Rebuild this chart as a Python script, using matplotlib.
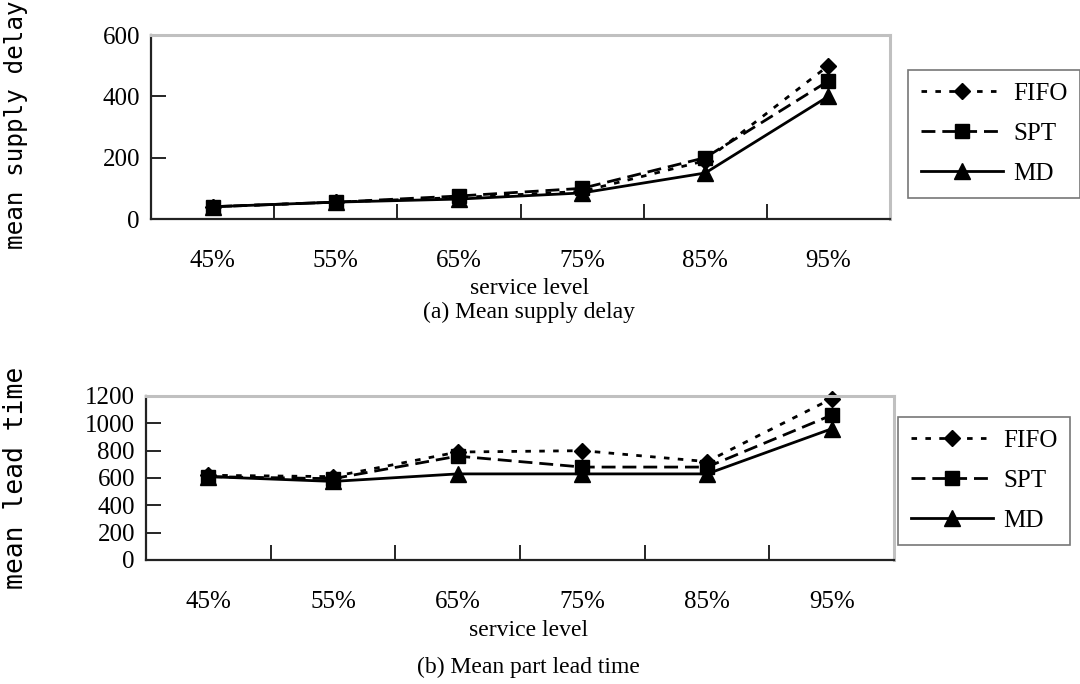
import matplotlib
matplotlib.use("Agg")
import numpy as np
from matplotlib import pyplot as plt

# service levels on the x axis
levels = ["45%", "55%", "65%", "75%", "85%", "95%"]

# (a) mean supply delay
delay_fifo = [40, 55, 70, 90, 190, 500]
delay_spt = [40, 55, 75, 100, 200, 450]
delay_md = [40, 55, 65, 85, 150, 400]

# (b) mean part lead time
lead_fifo = [620, 610, 790, 800, 720, 1180]
lead_spt = [610, 595, 760, 680, 680, 1060]
lead_md = [610, 575, 630, 630, 630, 960]

plt.rcParams['font.family'] = ['Liberation Serif', 'DejaVu Serif']

fig = plt.figure(figsize=(10.8, 6.84), dpi=100)

styles = [
    dict(label="FIFO", marker="D", ms=8.5, ls=(0, (2, 3))),
    dict(label="SPT", marker="s", ms=10, ls=(0, (5, 2.5))),
    dict(label="MD", marker="^", ms=11, ls="-"),
]


def draw(rect, series, ymax, ystep, ylabel, ylab_y, ylab_size, caption, cap_y, xl_y, leg_xy):
    ax = fig.add_axes(rect)
    x = np.arange(len(levels))
    for vals, st in zip(series, styles):
        ax.plot(x, vals, color="black", lw=2, linestyle=st["ls"],
                marker=st["marker"], markersize=st["ms"], label=st["label"],
                clip_on=False)
    ax.set_xlim(-0.5, len(levels) - 0.5)
    ax.set_ylim(0, ymax)
    ax.set_yticks(np.arange(0, ymax + 1, ystep))
    ax.set_xticks(x)
    ax.set_xticklabels(levels)
    ax.set_xticks(np.arange(-0.5, len(levels)), minor=True)
    ax.tick_params(axis="x", which="major", length=0, pad=22, labelsize=18)
    ax.tick_params(axis="x", which="minor", direction="in", length=11, width=1.2)
    ax.tick_params(axis="y", direction="in", length=11, width=1.2, pad=8, labelsize=18)
    for s in ["left", "bottom"]:
        ax.spines[s].set_color("#222222")
        ax.spines[s].set_linewidth(1.6)
    for s in ["top", "right"]:
        ax.spines[s].set_color("#c0c0c0")
        ax.spines[s].set_linewidth(2.2)

    # y label sits at the left edge of the figure
    fig.text(16 / 1080, 1 - ylab_y / 684, ylabel, rotation=90, ha="center",
             va="center", fontsize=ylab_size, family="DejaVu Sans Mono")
    cx = rect[0] + rect[2] / 2 + 0.008
    fig.text(cx, 1 - xl_y / 684, "service level", ha="center", va="center", fontsize=17)
    fig.text(cx, 1 - cap_y / 684, caption, ha="center", va="center", fontsize=17)

    leg = fig.legend(*ax.get_legend_handles_labels(), loc="upper left",
                     bbox_to_anchor=(leg_xy[0] / 1080, 1 - leg_xy[1] / 684),
                     frameon=True, fancybox=False, numpoints=1, fontsize=18,
                     handlelength=3.3, labelspacing=0.7, borderpad=0.5,
                     handletextpad=0.4, borderaxespad=0)
    leg.get_frame().set_edgecolor("#555555")
    leg.get_frame().set_linewidth(1.2)
    return ax


draw([151 / 1080, 1 - 219 / 684, 739 / 1080, 184 / 684],
     [delay_fifo, delay_spt, delay_md], 600, 200,
     "mean supply delay", 125, 17.5, "(a) Mean supply delay", 312, 288, (908, 70))

draw([146 / 1080, 1 - 560 / 684, 748 / 1080, 164 / 684],
     [lead_fifo, lead_spt, lead_md], 1200, 200,
     "mean lead time", 478, 19, "(b) Mean part lead time", 667, 631, (898, 417))

fig.savefig("out.png", dpi=100)
